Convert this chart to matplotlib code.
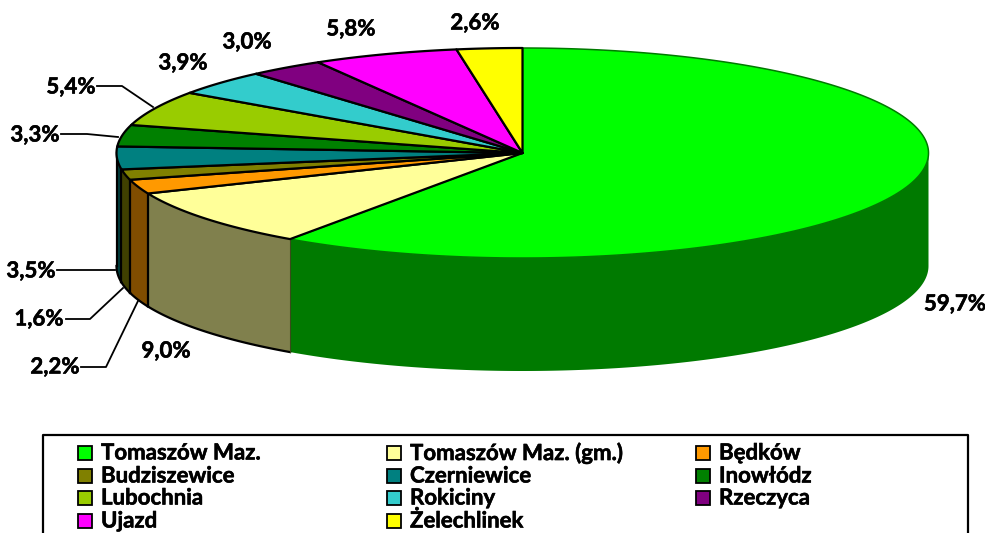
import numpy as np
import matplotlib
matplotlib.use("Agg")
import matplotlib.pyplot as plt
import matplotlib.patheffects as pe
from matplotlib.patches import Polygon, Rectangle

plt.rcParams['font.family'] = ['Lato', 'DejaVu Sans']

names = ["Tomaszów Maz.", "Tomaszów Maz. (gm.)", "Będków", "Budziszewice", "Czerniewice",
         "Inowłódz", "Lubochnia", "Rokiciny", "Rzeczyca", "Ujazd", "Żelechlinek"]
values = [59.7, 9.0, 2.2, 1.6, 3.5, 3.3, 5.4, 3.9, 3.0, 5.8, 2.6]
top_colors = ["#00FF00", "#FFFF99", "#FF9900", "#808000", "#008080", "#008000",
              "#99CC00", "#33CCCC", "#800080", "#FF00FF", "#FFFF00"]
side_colors = ["#007A00", "#80804D", "#804D00", "#404000", "#004040", "#004000",
               "#4D6600", "#1A6666", "#400040", "#800080", "#808000"]
labels = ["59,7%", "9,0%", "2,2%", "1,6%", "3,5%", "3,3%", "5,4%", "3,9%", "3,0%", "5,8%", "2,6%"]

# pie geometry in image pixels
cx, cy = 522.5, 153
rx, ry = 406, 105
depth = 113

# label centres, and leader lines where the original has them
label_pos = [(955, 304), (166, 351), (55, 367), (39, 319), (31, 271), (35, 135),
             (71, 87), (183, 63), (247, 42), (351, 29), (475, 23)]
leaders = {2: [(81, 367), (106, 367), (138, 301)],
           3: [(66, 319), (90, 319), (123, 288)],
           4: [(57, 270), (115, 270)],
           5: [(61, 134), (87, 134), (118, 137)],
           6: [(97, 86), (122, 86), (153, 107)]}

# legend layout
legend_cols = [78, 387, 696]
legend_rows = [453, 476, 498, 521]

heavy = [pe.withStroke(linewidth=0.4, foreground="black")]


def rim(a0, a1):
    t = np.radians(np.linspace(a0, a1, max(int(abs(a1 - a0) * 3), 2)))
    return cx + rx * np.sin(t), cy - ry * np.cos(t)


fig = plt.figure(figsize=(9.85, 5.33), dpi=100)
ax = fig.add_axes([0, 0, 1, 1])
ax.set_xlim(0, 985)
ax.set_ylim(533, 0)
ax.axis("off")

edges = np.concatenate([[0], np.cumsum(values)]) / sum(values) * 360

# outer wall, only the part facing the viewer
for i in range(len(values)):
    a0, a1 = max(edges[i], 90), min(edges[i + 1], 270)
    if a1 <= a0:
        continue
    x, y = rim(a0, a1)
    pts = np.r_[np.c_[x, y], np.c_[x[::-1], y[::-1] + depth]]
    ax.add_patch(Polygon(pts, closed=True, fc=side_colors[i], ec="none", zorder=2))
    # big green slice has no black outline
    if i > 0:
        ax.plot(x, y + depth, color="black", lw=1.6, zorder=3)
        ax.plot([x[-1], x[-1]], [y[-1], y[-1] + depth], color="black", lw=1.6, zorder=3)
    if i == 1:
        ax.plot([x[0], x[0]], [y[0], y[0] + depth], color="#3A4A1A", lw=0.8, zorder=3)

# top face, green first so the black outlines of the others lie on top
for i in range(len(values)):
    x, y = rim(edges[i], edges[i + 1])
    pts = np.r_[[[cx, cy]], np.c_[x, y]]
    edge = "#007A00" if i == 0 else "black"
    width = 1.1 if i == 0 else 1.6
    ax.add_patch(Polygon(pts, closed=True, fc=top_colors[i], ec=edge, lw=width,
                         joinstyle="round", zorder=4))

for i, lab in enumerate(labels):
    ax.text(label_pos[i][0], label_pos[i][1], lab, ha="center", va="center",
            fontsize=16, fontweight="bold", color="black", zorder=6, path_effects=heavy)

for pts in leaders.values():
    px, py = zip(*pts)
    ax.plot(px, py, color="black", lw=1.3, zorder=5)

# legend box runs off the bottom of the picture
ax.plot([43, 43, 968, 968], [540, 435, 435, 540], color="black", lw=1.6, zorder=5)
for i, name in enumerate(names):
    lx = legend_cols[i % 3]
    ly = legend_rows[i // 3]
    ax.add_patch(Rectangle((lx, ly - 7), 14, 14, fc=top_colors[i], ec="black", lw=1.3, zorder=5))
    ax.text(lx + 23, ly, name, ha="left", va="center", fontsize=16, fontweight="bold",
            color="black", zorder=6, path_effects=heavy)

fig.savefig("out.png", dpi=100)
